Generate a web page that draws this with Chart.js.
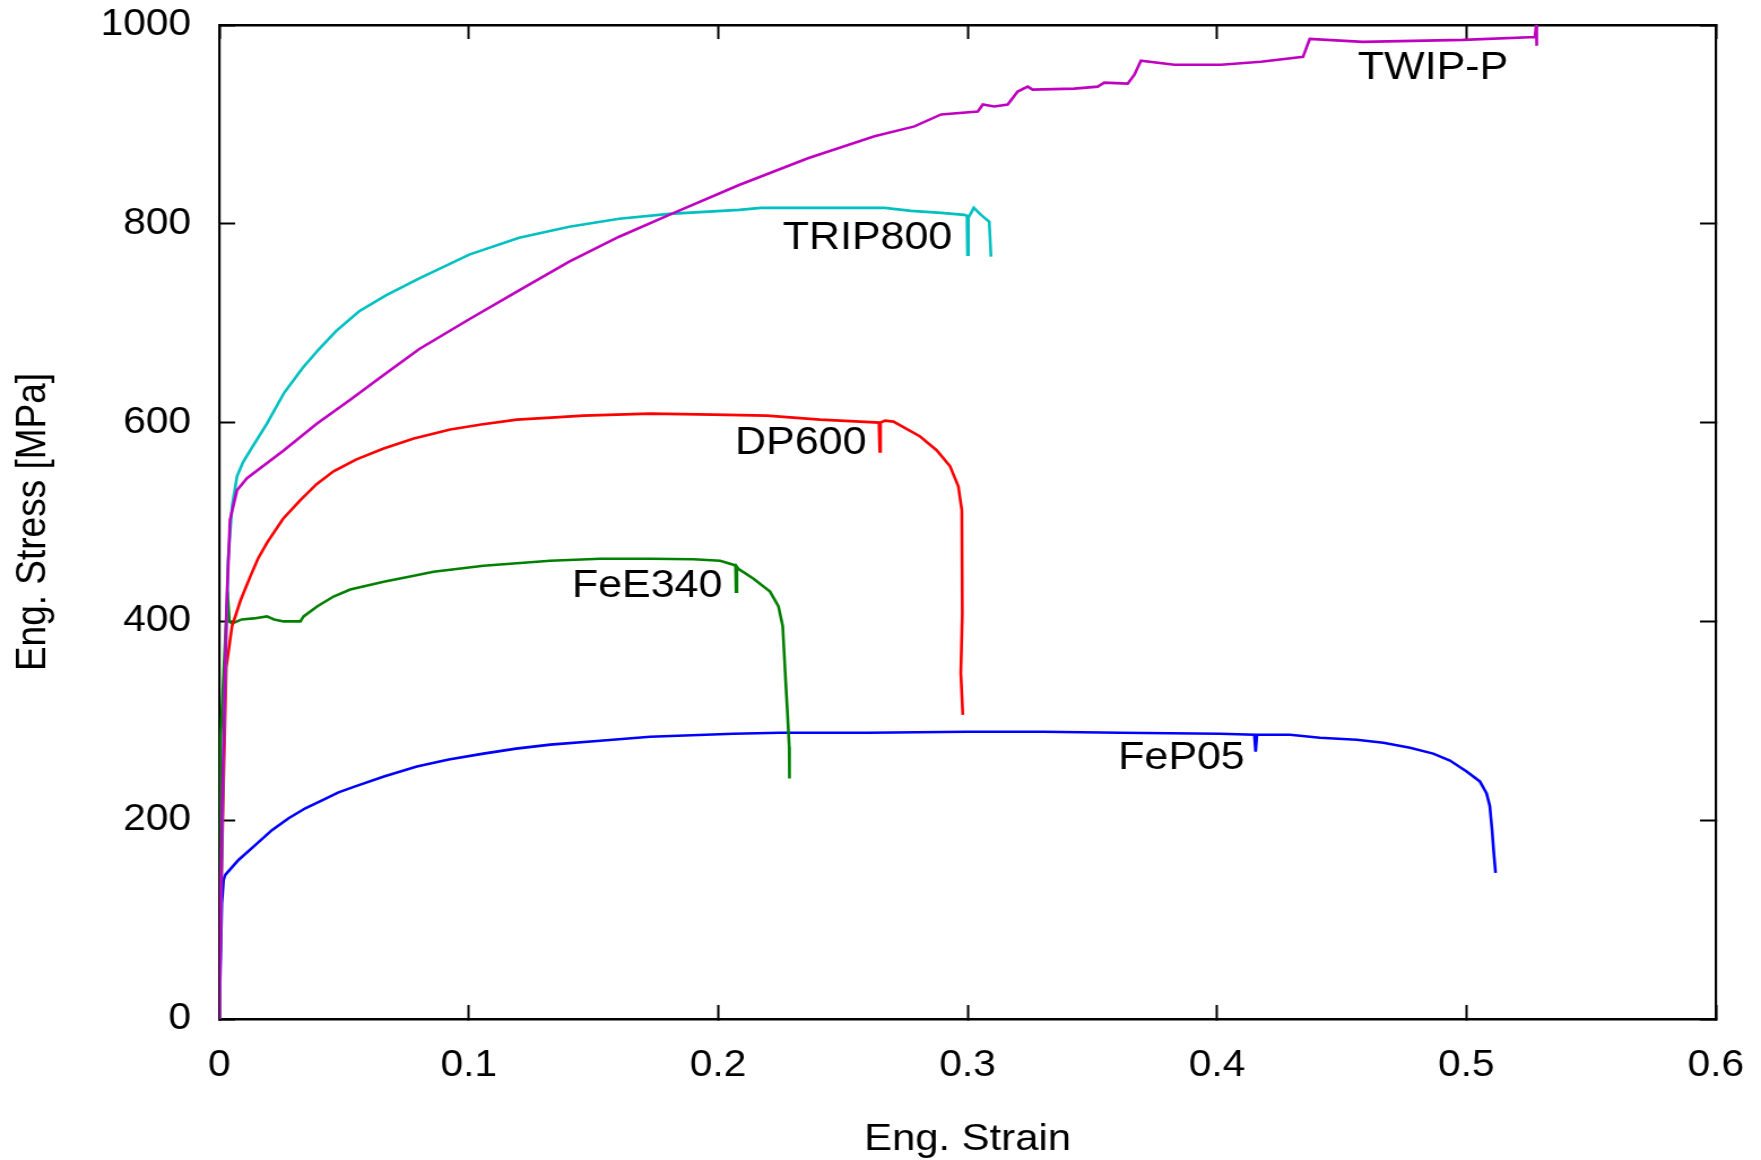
<!DOCTYPE html>
<html>
<head>
<meta charset="utf-8">
<script src="https://cdn.jsdelivr.net/npm/chart.js@4.4.1/dist/chart.umd.min.js"></script>
<style>
html, body { margin: 0; padding: 0; background: #ffffff; overflow: hidden; }
</style>
</head>
<body>
<canvas id="c" width="1558" height="1160" style="display:block;width:1761px;height:1160px;"></canvas>
<script>
// ---------------- DATA ----------------
const xTicks = [0, 0.1, 0.2, 0.3, 0.4, 0.5, 0.6];
const xTickLabels = ['0', '0.1', '0.2', '0.3', '0.4', '0.5', '0.6'];
const yTicks = [0, 200, 400, 600, 800, 1000];
const yTickLabels = ['0', '200', '400', '600', '800', '1000'];

const seriesNames = ['TWIP-P', 'TRIP800', 'DP600', 'FeE340', 'FeP05'];
const seriesColors = ['#c000c0', '#00c0c0', '#ff0000', '#008000', '#0000ff'];

const twipStrain = [0, 0.0012, 0.0030, 0.0043, 0.0071, 0.0111, 0.0258, 0.0392, 0.0525, 0.0659, 0.0802, 0.1002, 0.1202, 0.1403, 0.1603, 0.1804, 0.2084, 0.2360, 0.2627, 0.2787, 0.2894, 0.3041, 0.3061, 0.3107, 0.3161, 0.3201, 0.3241, 0.3261, 0.3428, 0.3522, 0.3548, 0.3642, 0.3669, 0.3695, 0.3829, 0.4016, 0.4176, 0.4345, 0.4372, 0.4585, 0.4986, 0.5275, 0.5280, 0.5282];
const twipStress = [0, 220, 420, 502, 532, 544, 572, 599, 623, 648, 674, 704, 733, 762, 787, 809, 839, 866, 888, 898, 910, 913, 920, 918, 920, 933, 938, 935, 936, 938, 942, 941, 950, 964, 960, 960, 963, 968, 986, 983, 985, 988, 1000, 979];

const tripStrain = [0, 0.0015, 0.0035, 0.0051, 0.0071, 0.0095, 0.0124, 0.0191, 0.0260, 0.0334, 0.0400, 0.0468, 0.0561, 0.0668, 0.0802, 0.1002, 0.1202, 0.1403, 0.1603, 0.1804, 0.2084, 0.2172, 0.2360, 0.2667, 0.2774, 0.2894, 0.2987, 0.2998, 0.3000, 0.3003, 0.3025, 0.3054, 0.3087, 0.3094];
const tripStress = [0, 250, 460, 515, 546, 560, 572, 599, 630, 655, 674, 692, 712, 728, 745, 769, 786, 797, 805, 810, 814, 816, 816, 816, 813, 811, 809, 808, 769, 806, 816, 809, 802, 767];

const dpStrain = [0, 0.0005, 0.0020, 0.0028, 0.0051, 0.0085, 0.0124, 0.0155, 0.0191, 0.0255, 0.0325, 0.0390, 0.0458, 0.0550, 0.0659, 0.0780, 0.0926, 0.1050, 0.1193, 0.1330, 0.1460, 0.1727, 0.1981, 0.2195, 0.2409, 0.2569, 0.2645, 0.2648, 0.2651, 0.2669, 0.2703, 0.2810, 0.2877, 0.2930, 0.2963, 0.2977, 0.2979, 0.2973, 0.2981];
const dpStress = [0, 100, 270, 354, 395, 421, 445, 463, 479, 503, 522, 538, 551, 563, 574, 584, 593, 598, 603, 605, 607, 609, 608, 607, 603, 601, 600, 571, 600, 602, 601, 586, 572, 556, 536, 512, 408, 348, 306];

const feeStrain = [0, 0.0005, 0.0030, 0.0035, 0.0040, 0.0051, 0.0090, 0.0138, 0.0191, 0.0220, 0.0258, 0.0325, 0.0338, 0.0392, 0.0458, 0.0525, 0.0659, 0.0760, 0.0859, 0.1059, 0.1327, 0.1527, 0.1727, 0.1901, 0.2008, 0.2061, 0.2070, 0.2072, 0.2075, 0.2081, 0.2142, 0.2208, 0.2242, 0.2259, 0.2269, 0.2278, 0.2285, 0.2286];
const feeStress = [0, 280, 415, 421, 400, 398, 402, 403, 405, 402, 400, 400, 405, 415, 425, 432, 440, 445, 450, 456, 461, 463, 463, 462.5, 461, 457, 456, 430, 455, 453, 443, 430, 415, 395, 348, 308, 274, 242];

const fepStrain = [0, 0.0010, 0.0017, 0.0024, 0.0077, 0.0144, 0.0211, 0.0278, 0.0345, 0.0412, 0.0478, 0.0545, 0.0660, 0.0792, 0.0920, 0.1059, 0.1190, 0.1327, 0.1527, 0.1727, 0.2061, 0.2249, 0.2600, 0.3000, 0.3300, 0.3611, 0.4012, 0.4150, 0.4155, 0.4160, 0.4293, 0.4413, 0.4560, 0.4667, 0.4774, 0.4867, 0.4934, 0.5001, 0.5054, 0.5081, 0.5094, 0.5103, 0.5110, 0.5117];
const fepStress = [0, 116, 140, 145, 160, 175, 190, 202, 212, 220, 228, 234, 244, 254, 261, 267, 272, 276, 280, 284, 287, 288, 288, 289, 289, 288, 287, 286, 269, 286, 286, 283, 281, 278, 273, 267, 260, 249, 239, 227, 214, 190, 167, 147];

const labelTexts = ['TWIP-P', 'TRIP800', 'DP600', 'FeE340', 'FeP05'];
const labelX = [0.4565, 0.2259, 0.2068, 0.1414, 0.3604];
const labelY = [956, 785, 579, 435, 262];

// ---------------- CHART ----------------
const FONT = "'Liberation Sans', Arial, Helvetica, sans-serif";
const strainSets = [twipStrain, tripStrain, dpStrain, feeStrain, fepStrain];
const stressSets = [twipStress, tripStress, dpStress, feeStress, fepStress];

const datasets = seriesNames.map((name, k) => ({
  label: name,
  data: strainSets[k].map((x, i) => ({ x: x, y: stressSets[k][i] })),
  borderColor: seriesColors[k],
  backgroundColor: seriesColors[k],
  borderWidth: 2.6,
  pointRadius: 0,
  pointHoverRadius: 0,
  fill: false,
  tension: 0
}));

const gridOpts = { drawOnChartArea: false, drawTicks: true, tickLength: -14, tickWidth: 2, tickColor: '#000000' };

function zeroPad(s) { s.paddingTop = 0; s.paddingBottom = 0; s.paddingLeft = 0; s.paddingRight = 0; }

const curveLabels = {
  id: 'curveLabels',
  afterDatasetsDraw(chart) {
    const { ctx, scales } = chart;
    ctx.save();
    ctx.font = '38px ' + FONT;
    ctx.fillStyle = '#000000';
    ctx.textAlign = 'left';
    ctx.textBaseline = 'middle';
    labelTexts.forEach((t, i) => {
      ctx.fillText(t, scales.x.getPixelForValue(labelX[i]), scales.y.getPixelForValue(labelY[i]));
    });
    ctx.restore();
  }
};

new Chart(document.getElementById('c'), {
  type: 'line',
  data: { datasets: datasets },
  plugins: [curveLabels],
  options: {
    responsive: false,
    devicePixelRatio: 1,
    animation: false,
    events: [],
    layout: { padding: { left: 0, right: 40, top: 25, bottom: 0 } },
    plugins: { legend: { display: false }, tooltip: { enabled: false } },
    scales: {
      x: {
        type: 'linear', position: 'bottom', min: 0, max: 0.6,
        afterBuildTicks: s => { s.ticks = xTicks.map(v => ({ value: v })); },
        afterFit: s => { s.height = 141; zeroPad(s); },
        ticks: { autoSkip: false, maxRotation: 0, padding: 39, color: '#000000',
                 font: { family: FONT, size: 36 }, callback: (v, i) => xTickLabels[i] },
        grid: gridOpts,
        border: { display: true, color: '#000000', width: 2.5 },
        title: { display: true, text: 'Eng. Strain', color: '#000000',
                 font: { family: FONT, size: 37, lineHeight: 1 }, padding: { top: 0, bottom: 2 } }
      },
      x2: {
        type: 'linear', axis: 'x', position: 'top', min: 0, max: 0.6,
        afterBuildTicks: s => { s.ticks = xTicks.map(v => ({ value: v })); },
        afterFit: s => { s.height = 0; zeroPad(s); },
        ticks: { display: false },
        grid: gridOpts,
        border: { display: true, color: '#000000', width: 2.5 }
      },
      y: {
        type: 'linear', position: 'left', min: 0, max: 1000,
        afterBuildTicks: s => { s.ticks = yTicks.map(v => ({ value: v })); },
        afterFit: s => { s.width = 194; zeroPad(s); },
        ticks: { autoSkip: false, padding: 39, color: '#000000',
                 font: { family: FONT, size: 36 }, callback: (v, i) => yTickLabels[i] },
        grid: gridOpts,
        border: { display: true, color: '#000000', width: 2.2 },
        title: { display: true, text: 'Eng. Stress [MPa]', color: '#000000',
                 font: { family: FONT, size: 37, lineHeight: 1 }, padding: { top: 11.5, bottom: 0 } }
      },
      y2: {
        type: 'linear', axis: 'y', position: 'right', min: 0, max: 1000,
        afterBuildTicks: s => { s.ticks = yTicks.map(v => ({ value: v })); },
        afterFit: s => { s.width = 0; zeroPad(s); },
        ticks: { display: false },
        grid: gridOpts,
        border: { display: true, color: '#000000', width: 2.2 }
      }
    }
  }
});
</script>
</body>
</html>
